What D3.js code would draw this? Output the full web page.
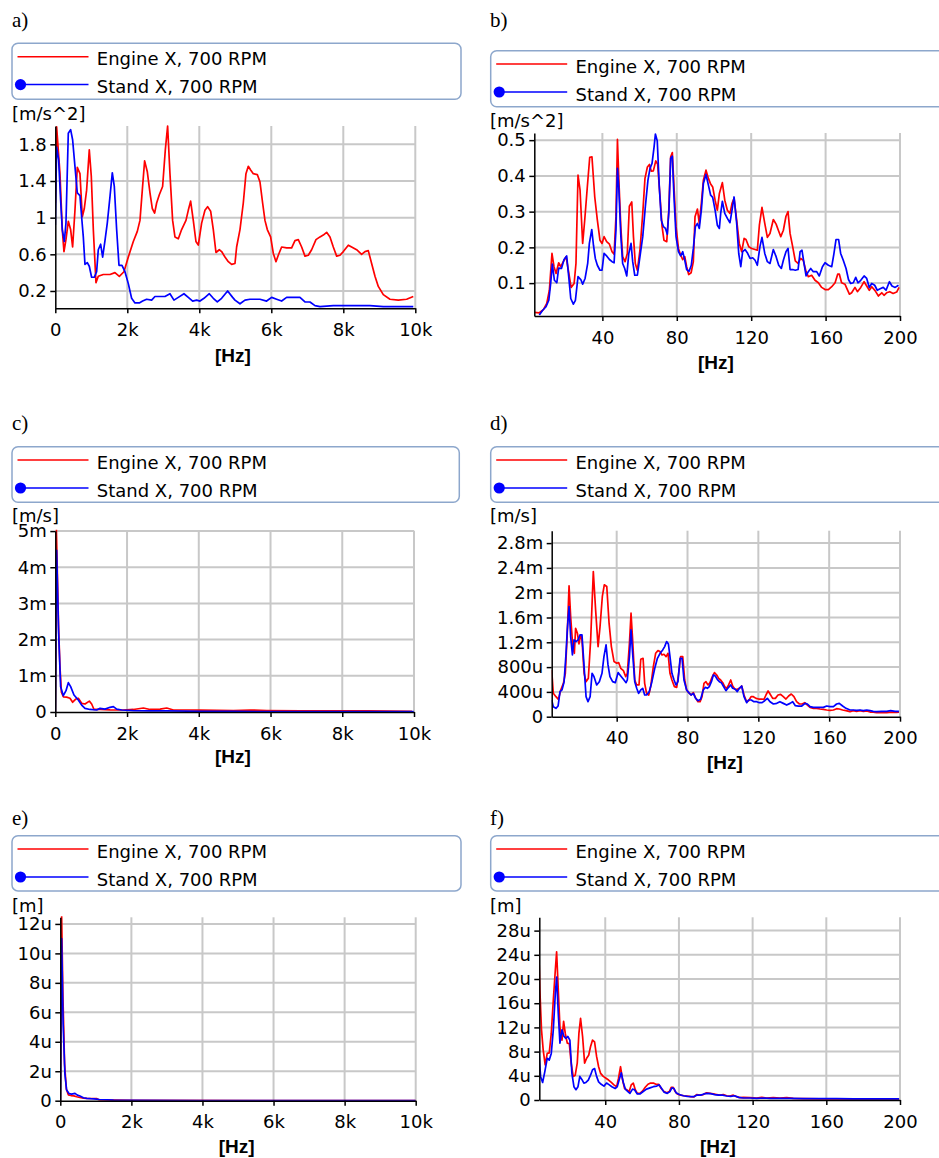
<!DOCTYPE html>
<html>
<head>
<meta charset="utf-8">
<script src="https://cdn.jsdelivr.net/npm/d3@7"></script>
<style>
  body { margin: 0; background: #fff; }
  svg { display: block; font-family: "DejaVu Sans", Verdana, sans-serif; }
</style>
</head>
<body>
<svg id="chart" width="939" height="1158"></svg>
<script>
// Series names and panel labels
const seriesNames = ["Engine X, 700 RPM", "Stand X, 700 RPM"];
const panelLabels = ["a)", "b)", "c)", "d)", "e)", "f)"];
const unitLabels = ["[m/s^2]", "[m/s^2]", "[m/s]", "[m/s]", "[m]", "[m]"];

// Tick values and labels
const wideXTicks = [0, 2000, 4000, 6000, 8000, 10000];
const wideXLabels = ["0", "2k", "4k", "6k", "8k", "10k"];
const narrowXTicks = [40, 80, 120, 160, 200];
const narrowXLabels = ["40", "80", "120", "160", "200"];
const aYTicks = [0.2, 0.6, 1, 1.4, 1.8];
const aYLabels = ["0.2", "0.6", "1", "1.4", "1.8"];
const bYTicks = [0.1, 0.2, 0.3, 0.4, 0.5];
const bYLabels = ["0.1", "0.2", "0.3", "0.4", "0.5"];
const cYTicks = [0, 1, 2, 3, 4, 5]; // mm/s
const cYLabels = ["0", "1m", "2m", "3m", "4m", "5m"];
const dYTicks = [0, 0.4, 0.8, 1.2, 1.6, 2.0, 2.4, 2.8]; // mm/s
const dYLabels = ["0", "400u", "800u", "1.2m", "1.6m", "2m", "2.4m", "2.8m"];
const eYTicks = [0, 2, 4, 6, 8, 10, 12]; // um
const eYLabels = ["0", "2u", "4u", "6u", "8u", "10u", "12u"];
const fYTicks = [0, 4, 8, 12, 16, 20, 24, 28]; // um
const fYLabels = ["0", "4u", "8u", "12u", "16u", "20u", "24u", "28u"];

// a) acceleration 0-10 kHz [Hz, m/s^2]
const aEngine = [[0,1.16],[37,1.99],[130,1.48],[194,0.87],[241,0.63],[296,0.76],[361,0.96],[426,0.87],[481,0.68],[546,1.08],[611,1.55],[685,1.48],[750,1.01],[806,1.10],[870,1.30],[944,1.74],[1000,1.45],[1056,0.87],[1130,0.29],[1194,0.36],[1333,0.38],[1519,0.38],[1657,0.40],[1778,0.36],[1907,0.41],[2028,0.57],[2167,0.74],[2278,0.85],[2352,0.97],[2417,1.30],[2481,1.62],[2556,1.50],[2630,1.27],[2694,1.10],[2759,1.05],[2815,1.16],[2889,1.25],[2981,1.34],[3056,1.74],[3120,2.0],[3185,1.48],[3259,0.97],[3324,0.79],[3417,0.77],[3509,0.87],[3630,0.97],[3694,1.08],[3759,1.18],[3833,0.97],[3907,0.74],[3972,0.70],[4065,0.94],[4157,1.08],[4231,1.12],[4315,1.07],[4389,0.87],[4463,0.62],[4556,0.65],[4620,0.63],[4713,0.57],[4806,0.52],[4898,0.49],[4991,0.50],[5037,0.68],[5130,0.87],[5222,1.16],[5296,1.48],[5361,1.56],[5426,1.52],[5500,1.48],[5611,1.47],[5685,1.39],[5759,1.16],[5824,0.97],[5889,0.87],[5981,0.79],[6056,0.61],[6130,0.52],[6194,0.59],[6287,0.68],[6426,0.67],[6565,0.67],[6657,0.75],[6750,0.76],[6843,0.68],[6935,0.58],[7028,0.59],[7120,0.65],[7241,0.76],[7352,0.79],[7444,0.81],[7537,0.84],[7630,0.79],[7722,0.68],[7815,0.58],[7907,0.59],[8000,0.63],[8139,0.70],[8231,0.68],[8370,0.65],[8509,0.60],[8602,0.63],[8694,0.64],[8787,0.50],[8880,0.36],[8972,0.25],[9111,0.16],[9296,0.11],[9528,0.10],[9759,0.11],[9944,0.14]];
const aStand = [[0,0.92],[37,1.77],[93,1.63],[148,1.19],[194,0.87],[250,0.74],[296,0.94],[361,1.92],[426,1.96],[481,1.85],[546,1.56],[611,1.27],[685,1.24],[731,1.01],[778,0.79],[824,0.49],[889,0.51],[944,0.47],[1009,0.35],[1083,0.35],[1148,0.41],[1194,0.65],[1259,0.71],[1315,0.57],[1380,0.75],[1444,0.94],[1519,1.23],[1583,1.49],[1639,1.34],[1704,0.87],[1769,0.48],[1852,0.48],[1935,0.41],[2028,0.28],[2120,0.12],[2213,0.07],[2333,0.07],[2426,0.09],[2537,0.11],[2676,0.10],[2768,0.14],[2907,0.14],[3046,0.14],[3185,0.17],[3296,0.10],[3417,0.13],[3574,0.17],[3694,0.13],[3815,0.09],[3926,0.10],[4019,0.09],[4130,0.12],[4278,0.17],[4389,0.12],[4500,0.08],[4620,0.12],[4787,0.20],[4926,0.13],[4991,0.10],[5130,0.06],[5269,0.10],[5407,0.11],[5685,0.11],[5870,0.09],[6009,0.13],[6148,0.11],[6287,0.09],[6426,0.13],[6611,0.13],[6796,0.13],[6935,0.08],[7074,0.08],[7213,0.04],[7352,0.03],[7722,0.04],[8093,0.04],[8463,0.04],[8741,0.04],[9111,0.03],[9574,0.03],[9944,0.03]];

// b) acceleration 0-200 Hz [Hz, m/s^2]
const bEngine = [[3.45,0.018],[6.1,0.017],[8.3,0.026],[10.1,0.043],[11.5,0.080],[12.9,0.183],[14.0,0.146],[15.1,0.127],[16.5,0.157],[17.6,0.146],[19.0,0.160],[20.5,0.174],[21.7,0.136],[23.2,0.088],[24.8,0.099],[25.8,0.155],[26.9,0.402],[28.0,0.360],[29.4,0.211],[30.5,0.276],[31.9,0.369],[33.2,0.452],[34.4,0.453],[35.9,0.341],[37.3,0.276],[38.7,0.220],[39.8,0.211],[40.9,0.230],[42.3,0.216],[43.8,0.209],[45.2,0.188],[46.3,0.181],[47.3,0.286],[48.1,0.502],[48.8,0.397],[49.9,0.258],[50.9,0.174],[52.2,0.160],[53.4,0.183],[54.5,0.315],[55.8,0.327],[56.7,0.230],[57.7,0.155],[58.8,0.136],[60.2,0.192],[61.7,0.295],[62.9,0.393],[64.2,0.425],[65.3,0.432],[66.3,0.413],[67.4,0.414],[68.7,0.442],[69.7,0.433],[71.0,0.341],[72.1,0.258],[73.1,0.220],[74.6,0.216],[75.7,0.304],[76.7,0.453],[77.6,0.465],[78.5,0.369],[79.6,0.258],[80.9,0.197],[82.1,0.178],[83.2,0.166],[84.3,0.174],[85.3,0.146],[86.4,0.124],[87.7,0.129],[88.9,0.160],[89.8,0.286],[91.1,0.307],[92.1,0.267],[93.2,0.323],[94.3,0.388],[95.7,0.416],[97.0,0.393],[98.2,0.377],[99.3,0.369],[100.6,0.332],[101.8,0.304],[102.9,0.351],[104.5,0.381],[105.8,0.332],[107.2,0.304],[108.6,0.295],[109.7,0.323],[110.8,0.337],[112.2,0.276],[113.6,0.211],[114.9,0.188],[116.2,0.225],[117.2,0.222],[118.7,0.202],[120.3,0.197],[122.1,0.194],[123.3,0.192],[124.4,0.262],[125.8,0.312],[127.3,0.267],[128.7,0.228],[130.1,0.239],[131.9,0.278],[133.4,0.265],[134.6,0.248],[135.9,0.230],[137.3,0.248],[138.7,0.287],[139.8,0.300],[140.9,0.239],[142.3,0.202],[143.7,0.162],[145.2,0.155],[146.6,0.169],[148.0,0.164],[149.5,0.132],[150.7,0.118],[152.5,0.122],[154.3,0.108],[156.1,0.101],[157.9,0.088],[159.7,0.082],[161.5,0.082],[163.3,0.090],[165.1,0.101],[166.5,0.125],[167.4,0.125],[168.6,0.101],[170.4,0.097],[171.7,0.082],[172.8,0.069],[174.0,0.073],[175.8,0.088],[177.1,0.076],[178.9,0.088],[180.7,0.104],[182.1,0.092],[183.5,0.080],[184.8,0.090],[186.6,0.079],[188.4,0.064],[190.2,0.073],[191.4,0.066],[192.8,0.073],[194.5,0.076],[196.3,0.071],[198.2,0.075],[199.5,0.088]];
const bStand = [[6.1,0.011],[7.9,0.024],[9.7,0.034],[11.2,0.052],[12.2,0.099],[13.1,0.153],[14.2,0.108],[15.5,0.101],[16.5,0.142],[18.0,0.141],[19.4,0.166],[20.8,0.176],[21.9,0.118],[23.0,0.057],[24.4,0.041],[25.5,0.052],[26.9,0.118],[28.4,0.110],[29.4,0.097],[30.7,0.113],[32.1,0.155],[33.0,0.211],[34.3,0.250],[35.2,0.206],[36.2,0.169],[37.3,0.150],[38.7,0.136],[39.8,0.136],[40.9,0.183],[42.3,0.176],[43.8,0.166],[45.2,0.160],[46.3,0.157],[47.3,0.248],[48.1,0.421],[48.8,0.369],[49.9,0.234],[50.9,0.155],[52.0,0.141],[53.1,0.120],[54.2,0.183],[55.4,0.211],[56.3,0.160],[57.4,0.122],[58.8,0.122],[60.2,0.174],[61.7,0.230],[63.1,0.314],[64.5,0.388],[65.6,0.421],[66.7,0.435],[67.8,0.481],[68.5,0.517],[69.5,0.498],[70.6,0.369],[71.7,0.276],[72.8,0.258],[73.9,0.253],[74.9,0.237],[75.8,0.304],[76.7,0.449],[77.6,0.455],[78.5,0.341],[79.6,0.230],[80.9,0.188],[82.1,0.176],[83.2,0.188],[84.3,0.164],[85.3,0.138],[86.6,0.133],[87.8,0.150],[88.9,0.197],[90.0,0.258],[91.1,0.267],[92.1,0.253],[93.2,0.304],[94.3,0.379],[95.7,0.404],[97.0,0.374],[98.2,0.346],[99.3,0.340],[100.6,0.304],[101.8,0.262],[102.9,0.253],[103.6,0.295],[104.5,0.329],[105.8,0.295],[107.2,0.281],[108.6,0.269],[109.7,0.304],[110.8,0.341],[112.2,0.267],[113.3,0.183],[114.4,0.146],[115.4,0.188],[116.7,0.194],[117.9,0.185],[119.4,0.169],[120.8,0.171],[122.1,0.164],[123.3,0.150],[124.7,0.202],[125.8,0.228],[127.3,0.183],[128.7,0.160],[130.1,0.155],[131.9,0.194],[133.4,0.174],[134.8,0.150],[136.2,0.141],[137.3,0.164],[138.7,0.188],[139.8,0.197],[140.9,0.138],[142.3,0.138],[143.7,0.136],[145.2,0.138],[146.3,0.188],[147.3,0.192],[148.4,0.155],[149.5,0.120],[150.7,0.132],[152.0,0.141],[153.4,0.132],[155.2,0.132],[156.6,0.120],[158.3,0.146],[159.7,0.157],[161.5,0.150],[163.3,0.146],[164.5,0.183],[165.6,0.222],[167.0,0.222],[168.1,0.183],[169.5,0.164],[171.0,0.141],[172.3,0.110],[173.5,0.099],[174.9,0.101],[176.2,0.116],[177.4,0.101],[178.9,0.108],[180.7,0.120],[182.1,0.113],[183.5,0.088],[184.8,0.099],[186.4,0.094],[187.8,0.080],[189.6,0.085],[191.0,0.088],[192.5,0.080],[194.3,0.104],[195.7,0.092],[197.4,0.088],[199.2,0.094]];

// c) velocity 0-10 kHz [Hz, mm/s]
const cEngine = [[0,0],[30,5.05],[90,2.4],[130,1.25],[170,0.55],[223,0.42],[316,0.41],[409,0.38],[484,0.27],[577,0.36],[642,0.38],[735,0.24],[828,0.22],[949,0.30],[1014,0.22],[1079,0.07],[1247,0.07],[1526,0.06],[1898,0.055],[2177,0.07],[2456,0.11],[2642,0.07],[2921,0.08],[3107,0.11],[3293,0.055],[3758,0.055],[4037,0.05],[4967,0.04],[5433,0.055],[5898,0.04],[6828,0.03],[7758,0.03],[8688,0.03],[9944,0.02]];
const cStand = [[0,0],[37,4.47],[93,2.17],[148,0.70],[223,0.45],[298,0.59],[363,0.81],[428,0.70],[521,0.47],[642,0.33],[735,0.19],[828,0.10],[967,0.07],[1153,0.055],[1247,0.10],[1386,0.08],[1526,0.13],[1619,0.15],[1712,0.08],[1851,0.055],[2177,0.04],[2642,0.03],[3107,0.03],[4037,0.02],[4967,0.02],[5898,0.01],[7758,0.01],[9991,0.01]];

// d) velocity 0-200 Hz [Hz, mm/s]
const dEngine = [[3.3,0.754],[4.2,0.377],[5.7,0.323],[7.1,0.280],[8.4,0.431],[9.9,0.538],[11.0,0.700],[12.1,1.346],[13.1,2.111],[14.0,1.616],[15.2,1.131],[16.1,1.023],[16.8,1.427],[17.8,1.346],[18.7,1.174],[19.7,1.319],[20.4,1.239],[21.6,0.700],[22.7,0.565],[24.0,0.619],[25.3,1.239],[26.8,2.342],[28.1,1.723],[29.5,1.131],[30.6,1.454],[31.9,1.939],[33.0,2.127],[34.4,2.100],[35.7,1.508],[37.0,1.131],[38.5,0.889],[40.0,0.862],[41.1,0.872],[42.3,0.781],[43.8,0.743],[45.1,0.646],[46.0,0.700],[47.2,1.185],[48.1,1.669],[49.0,1.239],[50.2,0.592],[51.3,0.512],[52.6,0.512],[53.6,0.926],[54.9,0.942],[55.8,0.538],[56.9,0.377],[58.1,0.350],[59.2,0.485],[60.7,0.808],[62.0,1.023],[63.3,1.066],[64.5,1.050],[65.6,0.996],[66.7,1.007],[67.9,0.969],[69.0,1.023],[70.1,0.700],[71.2,0.592],[72.6,0.485],[73.9,0.474],[75.0,0.700],[76.1,0.969],[77.3,0.969],[78.4,0.592],[79.5,0.431],[80.7,0.388],[82.0,0.350],[83.3,0.388],[84.4,0.312],[85.9,0.242],[87.1,0.242],[88.2,0.323],[89.3,0.538],[90.4,0.565],[91.6,0.512],[92.7,0.549],[94.0,0.646],[95.2,0.711],[96.5,0.673],[97.6,0.619],[98.7,0.592],[99.9,0.549],[101.0,0.485],[102.1,0.458],[103.2,0.512],[104.4,0.592],[105.5,0.495],[106.8,0.442],[108.1,0.442],[109.3,0.458],[110.6,0.495],[111.9,0.350],[113.4,0.242],[114.5,0.258],[115.9,0.323],[117.2,0.323],[118.7,0.296],[120.2,0.285],[121.7,0.285],[123.2,0.280],[124.3,0.350],[125.5,0.415],[126.6,0.366],[128.1,0.296],[129.6,0.296],[131.1,0.350],[132.6,0.361],[134.1,0.323],[135.6,0.285],[137.1,0.334],[138.6,0.366],[140.1,0.323],[141.6,0.242],[143.2,0.205],[144.7,0.205],[146.2,0.226],[147.7,0.188],[149.2,0.151],[151.1,0.135],[152.9,0.135],[154.8,0.124],[156.7,0.118],[158.6,0.108],[160.5,0.102],[162.4,0.108],[164.2,0.129],[165.7,0.124],[167.6,0.108],[169.5,0.097],[171.8,0.081],[173.6,0.097],[175.5,0.086],[177.4,0.097],[179.3,0.086],[181.2,0.092],[183.1,0.075],[184.9,0.075],[186.8,0.065],[189.6,0.070],[192.5,0.065],[195.3,0.075],[198.1,0.070],[199.4,0.075]];
const dStand = [[3.3,0.269],[4.2,0.162],[5.7,0.135],[6.9,0.172],[8.0,0.404],[9.1,0.431],[10.3,0.565],[11.4,1.023],[12.1,1.400],[13.1,1.777],[14.0,1.292],[15.0,0.996],[15.9,1.239],[17.0,1.212],[18.2,1.239],[19.3,1.319],[20.4,1.319],[21.6,0.808],[22.7,0.323],[23.8,0.242],[25.0,0.323],[26.1,0.700],[27.2,0.646],[28.7,0.512],[30.2,0.565],[31.7,0.700],[32.8,0.969],[34.0,1.158],[35.1,0.835],[36.2,0.646],[37.7,0.565],[39.2,0.549],[40.8,0.711],[42.3,0.657],[43.8,0.603],[45.3,0.549],[46.0,0.592],[47.2,0.969],[48.1,1.400],[49.0,1.023],[50.2,0.565],[51.3,0.458],[52.4,0.377],[53.6,0.431],[54.7,0.458],[55.8,0.350],[56.9,0.350],[58.4,0.404],[59.9,0.565],[61.5,0.781],[63.0,0.942],[64.5,1.023],[66.0,1.077],[67.1,1.131],[68.2,1.212],[69.2,1.174],[70.1,0.969],[71.2,0.700],[72.4,0.592],[73.5,0.512],[74.6,0.565],[75.8,0.942],[76.9,0.942],[78.0,0.592],[79.5,0.431],[80.7,0.388],[82.0,0.350],[83.3,0.377],[84.6,0.296],[85.9,0.258],[87.4,0.280],[88.9,0.431],[90.1,0.474],[91.2,0.458],[92.3,0.485],[93.5,0.565],[94.6,0.673],[95.7,0.657],[96.8,0.603],[98.0,0.565],[99.1,0.549],[100.2,0.495],[101.7,0.420],[103.2,0.474],[104.4,0.512],[105.5,0.458],[107.0,0.442],[108.1,0.404],[109.3,0.458],[110.6,0.495],[111.9,0.323],[113.4,0.226],[114.5,0.269],[116.0,0.269],[117.5,0.242],[119.1,0.242],[120.6,0.226],[122.1,0.226],[123.6,0.258],[125.1,0.296],[126.6,0.242],[128.5,0.205],[130.4,0.215],[132.2,0.242],[134.1,0.215],[136.0,0.188],[137.9,0.215],[139.4,0.242],[140.9,0.178],[142.6,0.172],[144.5,0.172],[146.4,0.215],[147.7,0.205],[149.2,0.162],[151.1,0.151],[152.9,0.151],[154.8,0.151],[156.7,0.151],[158.6,0.172],[160.5,0.162],[162.4,0.162],[164.2,0.205],[165.7,0.215],[167.6,0.172],[169.5,0.135],[171.8,0.108],[173.6,0.108],[175.5,0.102],[177.4,0.108],[179.3,0.097],[181.2,0.108],[183.1,0.097],[184.9,0.086],[186.8,0.081],[189.6,0.086],[192.5,0.086],[194.7,0.097],[197.2,0.086],[199.4,0.086]];

// e) displacement 0-10 kHz [Hz, um]
const eEngine = [[0,0],[37,12.6],[75,7.0],[120,2.5],[170,0.8],[225,0.4],[300,0.35],[380,0.33],[460,0.27],[550,0.22],[650,0.18],[750,0.16],[850,0.15],[950,0.15],[1020,0.14],[1100,0.05],[2000,0.02],[10000,0.005]];
const eStand = [[0,0],[37,11.0],[80,5.2],[130,1.8],[178,0.72],[250,0.48],[319,0.45],[413,0.5],[480,0.38],[553,0.32],[650,0.2],[741,0.16],[850,0.14],[950,0.13],[1100,0.08],[1500,0.04],[2000,0.02],[4000,0.01],[10000,0.005]];

// f) displacement 0-200 Hz [Hz, um]
const fEngine = [[3.4,31],[4.5,18.2],[5.4,11.6],[6.3,8.3],[7.4,5.8],[8.5,7.7],[9.6,7.8],[10.7,11.0],[11.8,16.5],[12.9,21.5],[13.6,24.5],[14.5,18.2],[15.4,12.1],[16.5,9.9],[17.4,13.0],[18.3,11.0],[19.4,9.4],[20.5,9.3],[21.5,6.1],[22.6,3.9],[23.7,4.1],[24.8,6.1],[25.7,11.0],[26.6,13.5],[27.7,10.5],[28.8,6.1],[29.9,6.9],[31.0,7.4],[32.0,8.8],[33.1,9.9],[34.2,9.6],[35.3,7.2],[36.4,5.5],[37.5,4.4],[38.9,3.9],[40.4,3.6],[41.8,3.3],[43.3,2.9],[44.7,2.5],[46.2,2.2],[47.2,3.6],[48.3,5.5],[49.4,3.3],[50.5,1.9],[51.6,1.7],[53.0,1.4],[54.1,2.5],[55.2,2.8],[56.3,1.7],[57.4,1.1],[58.8,1.1],[60.3,1.5],[61.7,2.1],[63.2,2.6],[64.6,2.8],[66.1,2.8],[67.5,2.6],[69.0,2.6],[70.4,1.9],[71.9,1.4],[73.3,1.2],[74.8,1.4],[75.8,2.1],[76.9,2.1],[78.0,1.4],[79.1,1.0],[80.9,0.8],[82.7,0.7],[84.5,0.66],[86.3,0.55],[88.1,0.5],[89.6,0.9],[91.4,0.8],[93.2,0.9],[95.0,1.2],[96.8,1.1],[98.6,1.0],[100.5,0.9],[102.3,0.8],[104.1,0.9],[105.9,0.7],[107.7,0.66],[109.5,0.8],[111.3,0.55],[113.1,0.39],[114.9,0.44],[118.6,0.39],[122.2,0.33],[124.9,0.44],[127.6,0.33],[131.2,0.39],[134.8,0.33],[138.5,0.39],[142.1,0.28],[147.5,0.22],[156.6,0.17],[165.6,0.17],[174.7,0.17],[183.7,0.17],[192.8,0.17],[199.5,0.17]];
const fStand = [[3.4,10.5],[3.8,8.8],[4.9,3.9],[6.0,2.9],[7.2,4.7],[8.5,6.9],[9.6,6.6],[10.7,7.7],[11.8,11.6],[12.9,17.6],[13.6,20.3],[14.5,14.3],[15.4,9.4],[16.5,11.6],[17.6,10.5],[18.6,10.2],[19.7,10.5],[20.8,9.9],[21.9,4.4],[23.0,2.2],[24.1,1.7],[25.2,2.2],[26.2,3.9],[27.3,3.4],[28.4,2.8],[29.5,2.9],[30.8,3.3],[32.0,4.1],[33.1,5.0],[34.2,5.2],[35.3,3.9],[36.4,3.0],[37.8,2.6],[39.3,2.3],[40.7,2.8],[42.2,2.5],[43.6,2.2],[45.4,1.9],[46.5,2.2],[47.6,3.4],[48.7,4.5],[49.8,2.9],[50.9,1.8],[52.3,1.4],[53.4,1.1],[54.8,1.8],[55.9,1.7],[57.4,1.0],[58.8,1.0],[60.6,1.4],[62.4,1.8],[64.3,2.0],[66.1,2.2],[67.9,2.3],[69.3,2.5],[70.6,1.9],[71.9,1.3],[73.7,1.1],[75.1,1.4],[76.2,2.0],[77.3,1.9],[78.4,1.2],[80.2,0.9],[82.4,0.7],[84.5,0.6],[86.7,0.55],[88.1,0.55],[89.6,0.8],[91.8,0.8],[93.6,1.0],[95.4,1.1],[97.2,1.05],[99.4,0.9],[101.6,0.8],[103.7,0.8],[105.9,0.66],[108.1,0.6],[110.2,0.7],[112.4,0.44],[114.9,0.33],[118.6,0.33],[122.2,0.28],[125.8,0.33],[129.4,0.28],[134.8,0.28],[140.3,0.28],[147.5,0.22],[156.6,0.22],[165.6,0.22],[174.7,0.17],[183.7,0.17],[199.5,0.17]];

// Layout of each panel (pixel positions)
const layouts = [
	{ lx: 12, ly: 27.3, bx: 12, by: 43.3, bw: 449, bh: 56, uy: 120, l: 55.3, r: 415.3, t: 126, b: 308.3, hx: 233, hy: 362 },
	{ lx: 490, ly: 27.3, bx: 490.7, by: 50.7, bw: 456, bh: 56, uy: 127, l: 534.3, r: 900, t: 133, b: 316, hx: 716, hy: 369 },
	{ lx: 12, ly: 430.3, bx: 12, by: 446.7, bw: 447.3, bh: 55.6, uy: 521.5, l: 55.3, r: 414, t: 530.7, b: 712, hx: 233, hy: 762.5 },
	{ lx: 490, ly: 430.3, bx: 490.7, by: 446.7, bw: 456, bh: 55.6, uy: 521.5, l: 551.7, r: 900, t: 530.7, b: 716.7, hx: 725, hy: 769.3 },
	{ lx: 12, ly: 825.3, bx: 12, by: 835.7, bw: 449, bh: 55.2, uy: 911.5, l: 60.3, r: 415.7, t: 917.3, b: 1100.7, hx: 236.7, hy: 1152.7 },
	{ lx: 490, ly: 825.3, bx: 490.7, by: 835.7, bw: 456, bh: 55.2, uy: 911.5, l: 539.3, r: 900, t: 917.3, b: 1100, hx: 718, hy: 1152.7 },
];

const panels = [
	{ engine: aEngine, stand: aStand, xDom: [0, 10000], yDom: [0.011, 2.0], xTicks: wideXTicks, xLabels: wideXLabels, yTicks: aYTicks, yLabels: aYLabels },
	{ engine: bEngine, stand: bStand, xDom: [3.4, 200], yDom: [0.008, 0.52], xTicks: narrowXTicks, xLabels: narrowXLabels, yTicks: bYTicks, yLabels: bYLabels },
	{ engine: cEngine, stand: cStand, xDom: [0, 10000], yDom: [0, 5.01], xTicks: wideXTicks, xLabels: wideXLabels, yTicks: cYTicks, yLabels: cYLabels },
	{ engine: dEngine, stand: dStand, xDom: [3.3, 200], yDom: [0, 3.0], xTicks: narrowXTicks, xLabels: narrowXLabels, yTicks: dYTicks, yLabels: dYLabels },
	{ engine: eEngine, stand: eStand, xDom: [0, 10000], yDom: [0, 12.45], xTicks: wideXTicks, xLabels: wideXLabels, yTicks: eYTicks, yLabels: eYLabels },
	{ engine: fEngine, stand: fStand, xDom: [4.2, 200], yDom: [0, 30.2], xTicks: narrowXTicks, xLabels: narrowXLabels, yTicks: fYTicks, yLabels: fYLabels },
];

const RED = "#ff0000";
const BLUE = "#0000ff";
const GRID = "#c8c8c8";
const FONT = 18;

const svg = d3.select("#chart");

function drawPanel(p, lay, i) {
	const g = svg.append("g");

	// Panel label, serif like the paper
	g.append("text")
		.attr("x", lay.lx)
		.attr("y", lay.ly)
		.attr("font-family", "'Liberation Serif', 'Times New Roman', serif")
		.attr("font-size", 21)
		.text(panelLabels[i]);

	// Legend box
	g.append("rect")
		.attr("x", lay.bx)
		.attr("y", lay.by)
		.attr("width", lay.bw)
		.attr("height", lay.bh)
		.attr("rx", 6)
		.attr("fill", "none")
		.attr("stroke", "#8da7cc")
		.attr("stroke-width", 1.5);

	const rows = [
		{ name: seriesNames[0], color: RED, dot: false, dy: 13.4 },
		{ name: seriesNames[1], color: BLUE, dot: true, dy: 41.3 },
	];
	rows.forEach((row) => {
		const ly = lay.by + row.dy;
		g.append("line")
			.attr("x1", lay.bx + (row.dot ? 8.5 : 5.5))
			.attr("x2", lay.bx + 76.5)
			.attr("y1", ly)
			.attr("y2", ly)
			.attr("stroke", row.color)
			.attr("stroke-width", 1.5);
		if (row.dot) {
			g.append("circle")
				.attr("cx", lay.bx + 8.5)
				.attr("cy", ly)
				.attr("r", 5.6)
				.attr("fill", row.color);
		}
		g.append("text")
			.attr("x", lay.bx + 84.8)
			.attr("y", ly + 8.6)
			.attr("font-size", FONT)
			.attr("fill", "#000")
			.text(row.name);
	});

	// Unit label
	g.append("text")
		.attr("x", lay.lx)
		.attr("y", lay.uy)
		.attr("font-size", FONT)
		.text(unitLabels[i]);

	// Scales
	const x = d3.scaleLinear().domain(p.xDom).range([lay.l, lay.r]);
	const y = d3.scaleLinear().domain(p.yDom).range([lay.b, lay.t]);

	// Grid
	g.append("g")
		.selectAll("line")
		.data(p.xTicks.filter((d) => d > p.xDom[0]))
		.join("line")
		.attr("x1", (d) => x(d))
		.attr("x2", (d) => x(d))
		.attr("y1", lay.t)
		.attr("y2", lay.b)
		.attr("stroke", GRID)
		.attr("stroke-width", 2);
	g.append("g")
		.selectAll("line")
		.data(p.yTicks.filter((d) => d > p.yDom[0]))
		.join("line")
		.attr("x1", lay.l)
		.attr("x2", lay.r)
		.attr("y1", (d) => y(d))
		.attr("y2", (d) => y(d))
		.attr("stroke", GRID)
		.attr("stroke-width", 2);

	// Series, clipped to the plot area
	const clipId = "clip" + i;
	svg.append("clipPath")
		.attr("id", clipId)
		.append("rect")
		.attr("x", lay.l)
		.attr("y", lay.t - 1)
		.attr("width", lay.r - lay.l)
		.attr("height", lay.b - lay.t + 1);

	const line = d3
		.line()
		.x((d) => x(d[0]))
		.y((d) => y(d[1]));

	const series = g.append("g").attr("clip-path", `url(#${clipId})`);
	[
		{ data: p.engine, color: RED },
		{ data: p.stand, color: BLUE },
	].forEach((s) => {
		series
			.append("path")
			.datum(s.data)
			.attr("d", line)
			.attr("fill", "none")
			.attr("stroke", s.color)
			.attr("stroke-width", 1.7)
			.attr("stroke-linejoin", "round");
	});

	// Axes
	const yAxis = g
		.append("g")
		.attr("transform", `translate(${lay.l},0)`)
		.call(
			d3
				.axisLeft(y)
				.tickValues(p.yTicks)
				.tickFormat((d, k) => p.yLabels[k])
				.tickSize(5)
				.tickSizeOuter(0)
				.tickPadding(3.5)
		);
	const xAxis = g
		.append("g")
		.attr("transform", `translate(0,${lay.b})`)
		.call(
			d3
				.axisBottom(x)
				.tickValues(p.xTicks)
				.tickFormat((d, k) => p.xLabels[k])
				.tickSize(5)
				.tickSizeOuter(0)
				.tickPadding(10)
		);
	[yAxis, xAxis].forEach((ax) => {
		ax.selectAll("path, line").attr("stroke", "#000").attr("stroke-width", 1.5);
		ax.selectAll("text")
			.attr("font-size", FONT)
			.attr("font-family", "'DejaVu Sans', Verdana, sans-serif")
			.attr("fill", "#000");
	});

	// X axis title
	g.append("text")
		.attr("x", lay.hx)
		.attr("y", lay.hy)
		.attr("text-anchor", "middle")
		.attr("font-family", "'Liberation Sans', Arial, sans-serif")
		.attr("font-size", 19)
		.attr("font-weight", "bold")
		.text("[Hz]");
}

panels.forEach((p, i) => drawPanel(p, layouts[i], i));
</script>
</body>
</html>
